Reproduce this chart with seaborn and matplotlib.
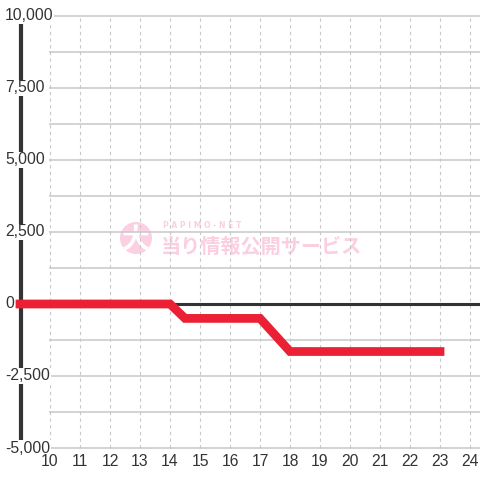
import matplotlib
matplotlib.use("Agg")
import matplotlib.pyplot as plt
import seaborn as sns
import pandas as pd
from matplotlib.patches import Circle

# data
hours = [9, 10, 11, 12, 13, 14, 14.5, 15, 16, 17, 18, 19, 20, 21, 22, 23]
balance = [0, 0, 0, 0, 0, 0, -500, -500, -500, -500, -1650, -1650, -1650, -1650, -1650, -1650]
x_ticks = list(range(10, 25))
y_ticks = [10000, 7500, 5000, 2500, 0, -2500, -5000]
y_grid = [10000, 8750, 7500, 6250, 5000, 3750, 2500, 1250, 0, -1250, -2500, -3750, -5000]

df = pd.DataFrame({"hour": hours, "balance": balance})

sns.set_style("white")
plt.rcParams["font.family"] = ["Liberation Sans", "DejaVu Sans"]

fig = plt.figure(figsize=(4.8, 4.8), dpi=100)
ax = fig.add_axes([0, 0, 1, 1])
ax.set_xlim(8.333, 24.333)
ax.set_ylim(-6111, 10555)
ax.axis("off")

grid_c = "#c8c8c8"
# horizontal grid
ax.hlines(y_grid, 9.95, 24.333, colors=grid_c, linewidth=1.1, zorder=1)
# vertical dotted grid
ax.vlines(x_ticks, -5000, 10000, colors=grid_c, linewidth=0.8,
          linestyles=(0, (3, 3)), zorder=1)

# watermark
ax.add_patch(Circle((136 / 480, 1 - 238 / 480), 16 / 480, transform=ax.transAxes,
                    facecolor="#fbd0e3", edgecolor="none", zorder=0.5))
ax.text(136 / 480, 1 - 240 / 480, "大", transform=ax.transAxes, ha="center", va="center",
        fontsize=20, fontweight="bold", color="white",
        family=["Noto Sans CJK JP", "DejaVu Sans"], zorder=0.6)
ax.text(161 / 480, 1 - 246 / 480, "当り情報公開サービス", transform=ax.transAxes,
        ha="left", va="center", fontsize=14.5, fontweight="bold", color="#fbcfe1",
        family=["Noto Sans CJK JP", "DejaVu Sans"], zorder=0.6)
ax.text(163 / 480, 1 - 226 / 480, "P A P I M O - N E T", transform=ax.transAxes,
        ha="left", va="center", fontsize=5.5, fontweight="bold", color="#fbcfe1",
        family=["DejaVu Sans"], zorder=0.6)

# axis lines
ax.vlines(9.02, -5000, 10000, colors="#333333", linewidth=3, zorder=2)
ax.hlines(0, 9.02, 24.333, colors="#333333", linewidth=2.2, zorder=2)

# red line
sns.lineplot(data=df, x="hour", y="balance", ax=ax, color="#ec2035",
             linewidth=6.3, zorder=3)
for ln in ax.get_lines():
    ln.set_solid_capstyle("projecting")
    ln.set_solid_joinstyle("miter")

# tick labels
for v in y_ticks:
    ax.text(8.5, v, f"{v:,}", ha="left", va="center", fontsize=11.3, color="#333333",
            bbox=dict(facecolor="white", edgecolor="none", pad=0.5), zorder=4)
for t in x_ticks:
    ax.text(t, -5486, str(t), ha="center", va="center", fontsize=11.3, color="#333333", zorder=4)

ax.set_xlabel("")
ax.set_ylabel("")
fig.savefig("out.png", dpi=100)
